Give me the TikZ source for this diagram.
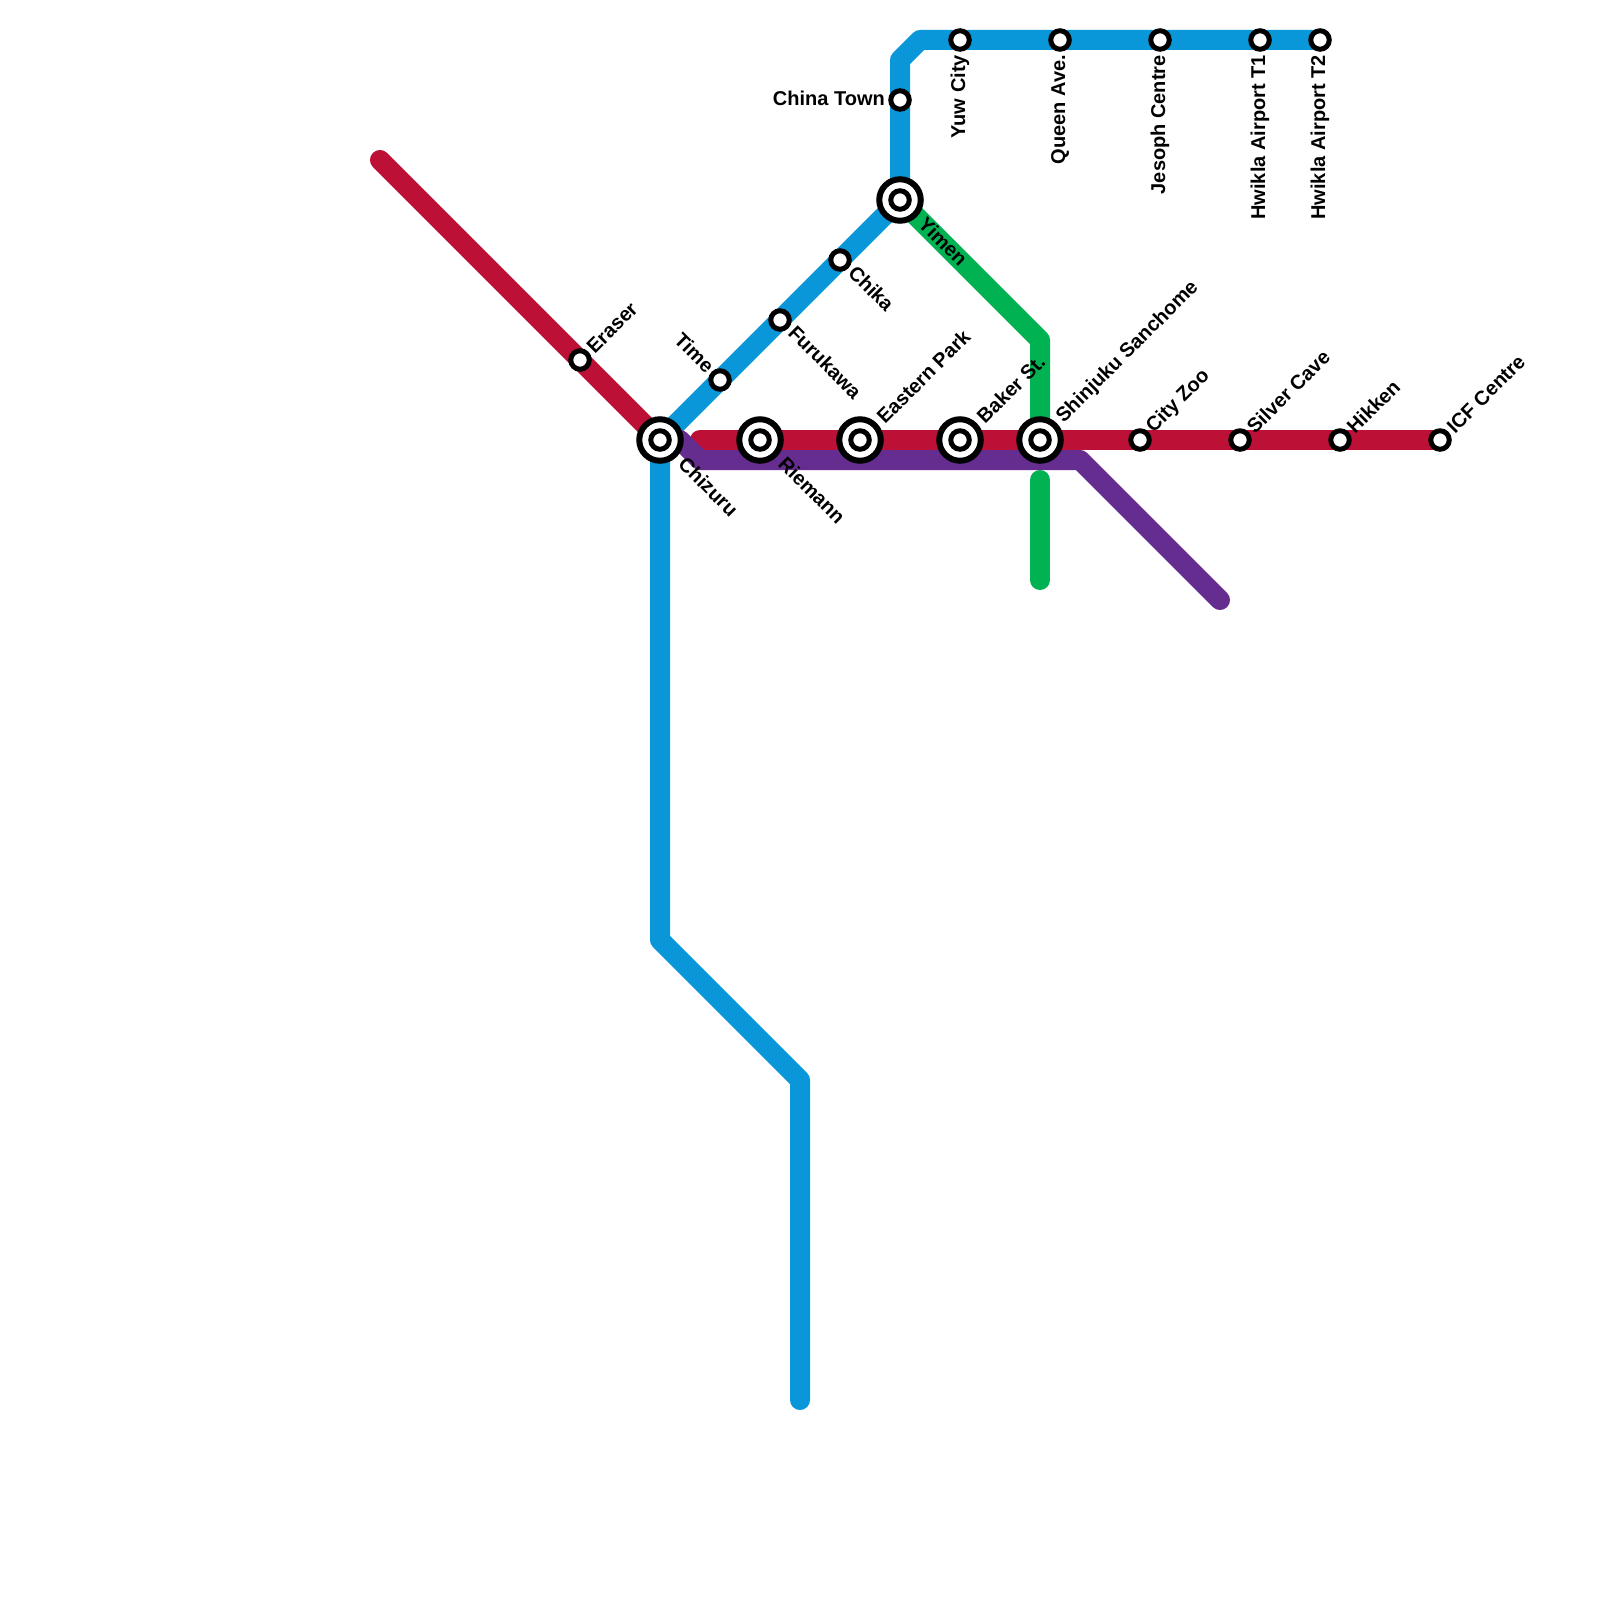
\documentclass[tikz,border=0pt]{standalone}
\usepackage{fontspec}
\setmainfont{Liberation Sans}
\definecolor{lineblue}{HTML}{0A97D9}
\definecolor{linered}{HTML}{BC1037}
\definecolor{linepurple}{HTML}{662D91}
\definecolor{linegreen}{HTML}{00B251}
\pgfdeclarelayer{lines}
\pgfsetlayers{lines,main}
\tikzset{
    metro/.style={line width=20pt, line cap=round, line join=round},
    halt/.style={circle, draw=black, fill=white, line width=5pt, minimum size=18.5pt, inner sep=0pt},
    hub/.style={circle, draw=black, fill=white, line width=6pt, minimum size=41.5pt, inner sep=0pt},
    hubdot/.style={circle, draw=black, line width=5pt, minimum size=18.5pt, inner sep=0pt},
    txt/.style={font=\fontsize{20}{24}\selectfont\bfseries, inner sep=0pt},
    lblne/.style={txt, xshift=10pt, yshift=10pt, rotate=45, anchor=west},
    lblse/.style={txt, xshift=12pt, yshift=-9pt, rotate=-45, anchor=west},
    lblnw/.style={txt, xshift=-9pt, yshift=11pt, rotate=-45, anchor=east},
    lblw/.style={txt, xshift=-15pt, yshift=2pt, anchor=east},
    lbls/.style={txt, yshift=-15pt, rotate=90, anchor=east},
    hubne/.style={txt, xshift=20pt, yshift=20pt, rotate=45, anchor=west},
    hubse/.style={txt, xshift=22pt, yshift=-20pt, rotate=-45, anchor=west}
}

\begin{document}
\begin{tikzpicture}[x=20pt, y=-20pt]
    \useasboundingbox (0,0) rectangle (80,80);

    % Stations
    \foreach \stn/\x/\y in {eraser/29/18, time/36/19, furukawa/39/16, chika/42/13, chinatown/45/5, yuwcity/48/2, queenave/53/2, jesoph/58/2, airportone/63/2, airporttwo/66/2, cityzoo/57/22, silvercave/62/22, hikken/67/22, icfcentre/72/22} {
        \node[halt] (\stn) at (\x,\y) {};
    }
    \foreach \stn/\x/\y in {chizuru/33/22, riemann/38/22, easternpark/43/22, bakerst/48/22, shinjuku/52/22, yimen/45/10} {
        \node[hub] (\stn) at (\x,\y) {};
        \node[hubdot] (\stn-dot) at (\x,\y) {};
    }

    % Bends and free ends
    \coordinate (bluetopa) at (45,3);
    \coordinate (bluetopb) at (46,2);
    \coordinate (bluelowa) at (33,47);
    \coordinate (bluelowb) at (40,54);
    \coordinate (blueend) at (40,70);
    \coordinate (redstart) at (19,8);
    \coordinate (redgap) at (35,22);
    \coordinate (purplestart) at (34,22);
    \coordinate (purplea) at (35,23);
    \coordinate (purpleb) at (54,23);
    \coordinate (purpleend) at (61,30);
    \coordinate (greenbend) at (52,17);
    \coordinate (greenlowa) at (52,24);
    \coordinate (greenlowb) at (52,29);

    % Lines
    \begin{pgfonlayer}{lines}
        \draw[metro, linegreen] (yimen.center) -- (greenbend) -- (shinjuku.center);
        \draw[metro, linegreen] (greenlowa) -- (greenlowb);
        \draw[metro, lineblue] (airporttwo.center) -- (bluetopb) -- (bluetopa) -- (yimen.center) -- (chizuru.center) -- (bluelowa) -- (bluelowb) -- (blueend);
        \draw[metro, linered] (redstart) -- (chizuru.center);
        \draw[metro, linered] (redgap) -- (icfcentre.center);
        \draw[metro, linepurple] (purplestart) -- (purplea) -- (purpleb) -- (purpleend);
    \end{pgfonlayer}

    % Labels
    \foreach \stn/\pos/\txt in {eraser/lblne/Eraser, time/lblnw/Time, furukawa/lblse/Furukawa, chika/lblse/Chika, chinatown/lblw/China Town, yuwcity/lbls/Yuw City, queenave/lbls/Queen Ave., jesoph/lbls/Jesoph Centre, airportone/lbls/Hwikla Airport T1, airporttwo/lbls/Hwikla Airport T2, cityzoo/lblne/City Zoo, silvercave/lblne/Silver Cave, hikken/lblne/Hikken, icfcentre/lblne/ICF Centre, chizuru/hubse/Chizuru, riemann/hubse/Riemann, easternpark/hubne/Eastern Park, bakerst/hubne/Baker St., shinjuku/hubne/Shinjuku Sanchome, yimen/hubse/Yimen} {
        \node[\pos] (\stn-label) at (\stn.center) {\txt};
    }
\end{tikzpicture}
\end{document}
